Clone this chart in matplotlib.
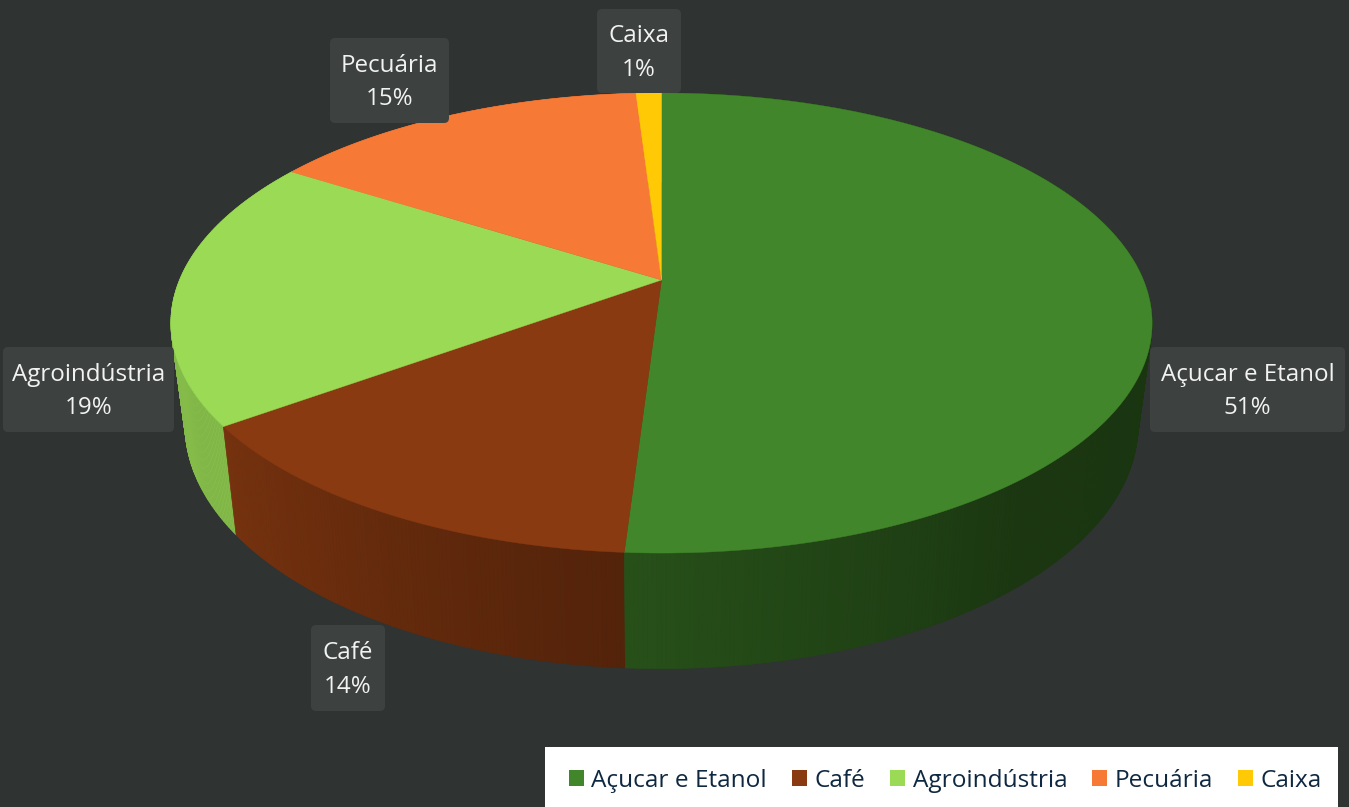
import numpy as np
import matplotlib
matplotlib.use('Agg')
import matplotlib.pyplot as plt
from matplotlib.patches import Polygon, FancyBboxPatch, Rectangle

categories = ['Açucar e Etanol', 'Café', 'Agroindústria', 'Pecuária', 'Caixa']
shares = [51, 14, 19, 15, 1]
colors = ['#41862a', '#8a3a11', '#9ada55', '#f77936', '#ffca05']

# label boxes in pixels: left, top, right, bottom
label_boxes = [(1150, 347, 1345, 432), (311, 625, 385, 711), (3, 347, 174, 432),
               (330, 38, 449, 123), (597, 9, 681, 93)]

plt.rcParams['font.family'] = ['Open Sans', 'DejaVu Sans']
BG = '#2f3332'
BOX = '#3d4140'


def top_disc(theta):
    # perspective view of the unit circle, top face
    X, Y = np.sin(theta), np.cos(theta)
    d = 1 + 0.187 * Y
    return 661.5 + 482 * X / d, 280 - 222 * Y / d


def bottom_disc(theta):
    X, Y = np.sin(theta), np.cos(theta)
    d = 1 + 0.187 * Y
    return 661.5 + 468 * X / d, 380 - 234.6 * Y / d


def shade(theta):
    # how dark the outer wall gets, going round clockwise from the top
    deg = np.degrees(theta) % 360
    return np.interp(deg, [0, 90, 140, 183.6, 234, 270, 360],
                     [0.4, 0.4, 0.41, 0.6, 0.86, 0.85, 0.85])


fig = plt.figure(figsize=(13.49, 8.07), dpi=100, facecolor=BG)
ax = fig.add_axes([0, 0, 1, 1])
ax.set_xlim(0, 1349)
ax.set_ylim(807, 0)
ax.axis('off')

edges = np.cumsum([0] + shares) / sum(shares) * 2 * np.pi

# outer wall, back to front so the front strips end up on top
strips = []
for i in range(len(shares)):
    steps = np.linspace(edges[i], edges[i + 1], max(2, shares[i] * 8))
    for a, b in zip(steps[:-1], steps[1:]):
        strips.append((a, b, i))
strips.sort(key=lambda s: -np.cos((s[0] + s[1]) / 2))
for a, b, i in strips:
    xa, ya = top_disc(a)
    xb, yb = top_disc(b)
    xc, yc = bottom_disc(b)
    xd, yd = bottom_disc(a)
    rgb = np.array(matplotlib.colors.to_rgb(colors[i])) * shade((a + b) / 2)
    ax.add_patch(Polygon([(xa, ya), (xb, yb), (xc, yc), (xd, yd)], closed=True,
                         fc=rgb, ec=rgb, lw=0.5, zorder=2))

# top face
for i in range(len(shares)):
    t = np.linspace(edges[i], edges[i + 1], 200)
    x, y = top_disc(t)
    ax.add_patch(Polygon(np.column_stack([np.r_[661.5, x], np.r_[280, y]]), closed=True,
                         fc=colors[i], ec=colors[i], lw=0.3, zorder=3))

# data labels
for name, val, (l, t, r, b) in zip(categories, shares, label_boxes):
    ax.add_patch(FancyBboxPatch((l + 5, t + 5), r - l - 10, b - t - 10,
                                boxstyle='round,pad=5,rounding_size=5',
                                fc=BOX, ec='none', zorder=4))
    ax.text((l + r) / 2, (t + b) / 2 + 2, f'{name}\n{val}%', color='#f2f2f2', fontsize=17.4,
            ha='center', va='center', linespacing=1.52, zorder=5)

# legend, white panel runs off the bottom of the picture
ax.add_patch(Rectangle((545, 747), 793, 60, fc='white', ec='none', zorder=6))
handles = [Rectangle((0, 0), 1, 1, fc=c, ec='none') for c in colors]
leg = ax.legend(handles, categories, ncol=5, loc='center left',
                bbox_to_anchor=(569, 781), bbox_transform=ax.transData,
                frameon=False, fontsize=17.6, labelcolor='#0e2841',
                handlelength=0.62, handleheight=0.62,
                handletextpad=0.3, columnspacing=1.02, borderaxespad=0, borderpad=0)
leg.set_zorder(7)

fig.savefig('out.png', dpi=100, facecolor=BG)
